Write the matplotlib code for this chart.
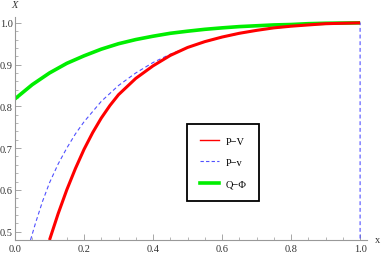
import numpy as np
import matplotlib
matplotlib.use('Agg')
import matplotlib.pyplot as plt
from matplotlib.lines import Line2D
from matplotlib.ticker import MultipleLocator

# data
x_pv = [0.10, 0.125, 0.15, 0.175, 0.20, 0.225, 0.25, 0.275, 0.30, 0.35, 0.40, 0.45,
        0.50, 0.55, 0.60, 0.65, 0.70, 0.75, 0.80, 0.85, 0.90, 0.95, 1.00]
y_pv = [0.480, 0.543, 0.600, 0.651, 0.697, 0.737, 0.772, 0.802, 0.828, 0.867, 0.897, 0.922,
        0.941, 0.955, 0.966, 0.975, 0.982, 0.988, 0.992, 0.995, 0.998, 0.999, 1.000]

x_pnu = [0.045, 0.06, 0.08, 0.10, 0.125, 0.15, 0.175, 0.20, 0.25, 0.30, 0.35,
         0.40, 0.45, 0.50, 0.55, 0.60, 0.65, 0.70, 0.75, 0.80, 0.85, 0.90, 0.95,
         1.00, 1.00]
y_pnu = [0.480, 0.522, 0.573, 0.617, 0.662, 0.700, 0.734, 0.763, 0.812, 0.850, 0.880,
         0.905, 0.925, 0.941, 0.954, 0.965, 0.974, 0.981, 0.987, 0.991, 0.995, 0.997, 0.999,
         1.000, 0.480]

x_qphi = [0.00, 0.05, 0.10, 0.15, 0.20, 0.25, 0.30, 0.35, 0.40, 0.45, 0.50,
          0.55, 0.60, 0.65, 0.70, 0.75, 0.80, 0.85, 0.90, 0.95, 1.00]
y_qphi = [0.818, 0.852, 0.880, 0.903, 0.921, 0.937, 0.950, 0.960, 0.968, 0.975, 0.980,
          0.9845, 0.988, 0.991, 0.993, 0.995, 0.996, 0.998, 0.999, 0.9995, 1.000]

labels = ['P\u2212V', 'P\u2212v', 'Q\u2212\u03a6']

plt.rcParams['font.family'] = ['Liberation Serif', 'DejaVu Serif']

fig = plt.figure(figsize=(3.82, 2.55), dpi=100)
ax = fig.add_axes([15/382, 14/255, 352/382, 223/255])

ax.plot(x_qphi, y_qphi, color='#00ee00', lw=2.6, solid_capstyle='butt', zorder=2)
ax.plot(x_pnu, y_pnu, color='#5050ff', lw=0.8, dashes=(3.5, 2.5), zorder=3)
ax.plot(x_pv, y_pv, color='#ff0000', lw=2.2, solid_capstyle='butt', zorder=4)

ax.set_xlim(0, 1.02)
ax.set_ylim(0.48, 1.014)

for s in ['top', 'right']:
    ax.spines[s].set_visible(False)
for s in ['left', 'bottom']:
    ax.spines[s].set_color('#999999')
    ax.spines[s].set_linewidth(0.8)

ax.xaxis.set_minor_locator(MultipleLocator(0.05))
ax.yaxis.set_minor_locator(MultipleLocator(0.02))
ax.set_xticks([0.0, 0.2, 0.4, 0.6, 0.8, 1.0])
ax.set_xticklabels(['0.0', '0.2', '0.4', '0.6', '0.8', '1.0'])
ax.set_yticks([0.5, 0.6, 0.7, 0.8, 0.9, 1.0])
ax.set_yticklabels(['0.5', '0.6', '0.7', '0.8', '0.9', '1.0'])
ax.tick_params(which='major', direction='in', length=4, width=0.6, color='#999999',
               labelsize=7.5, labelcolor='#333333')
ax.tick_params(axis='x', which='major', pad=3)
ax.tick_params(axis='y', which='major', pad=1.5)
ax.tick_params(which='minor', direction='in', length=2, width=0.5, color='#999999')

fig.text(378/382, 1 - 241/255, 'x', fontsize=7.5, ha='center', va='center', color='#333333')
fig.text(15/382, 1 - 6/255, 'X', fontsize=7.5, style='italic', ha='center', va='center',
         color='#333333')

handles = [Line2D([], [], color='#ff0000', lw=1.0),
           Line2D([], [], color='#5050ff', lw=0.8, dashes=(3, 2)),
           Line2D([], [], color='#00ee00', lw=2.6)]
leg = ax.legend(handles, labels, loc='upper left',
                bbox_to_anchor=(187/382, 1 - 125/255), bbox_transform=fig.transFigure,
                fontsize=7.5, frameon=True, fancybox=False, framealpha=1,
                handlelength=1.9, handletextpad=0.6, labelspacing=1.15,
                borderpad=1.2, borderaxespad=0)
leg.get_frame().set_edgecolor('black')
leg.get_frame().set_linewidth(1.3)

fig.savefig('out.png', dpi=100)
